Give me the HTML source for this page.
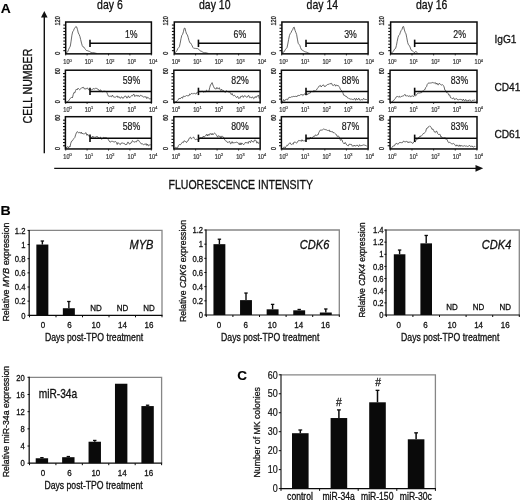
<!DOCTYPE html>
<html lang="en">
<head>
<meta charset="utf-8">
<title>Figure</title>
<style>
html,body{margin:0;padding:0;background:#fff;}
body{width:520px;height:500px;overflow:hidden;}
svg{display:block;font-family:'Liberation Sans', Arial, Helvetica, sans-serif;}
</style>
</head>
<body>
<svg width="520" height="500" viewBox="0 0 520 500" style="font-family:'Liberation Sans', Arial, Helvetica, sans-serif">
<rect x="0" y="0" width="520" height="500" fill="#ffffff"/>
<text transform="translate(0.70,12.70) scale(1.07,1)" font-size="13.0" text-anchor="start" fill="#000" stroke="#000" stroke-width="0.1" font-weight="bold">A</text>
<text transform="translate(0.50,215.40) scale(1.07,1)" font-size="13.2" text-anchor="start" fill="#000" stroke="#000" stroke-width="0.1" font-weight="bold">B</text>
<text transform="translate(237.30,379.80) scale(1.03,1)" font-size="13.2" text-anchor="start" fill="#000" stroke="#000" stroke-width="0.1" font-weight="bold">C</text>
<line x1="44.30" y1="16.00" x2="44.30" y2="153.30" stroke="#111" stroke-width="1.4"/>
<polygon points="44.3,10.9 41.0,17.4 47.6,17.4" fill="#111"/>
<line x1="54.20" y1="168.30" x2="477.00" y2="168.30" stroke="#111" stroke-width="1.2"/>
<polygon points="483.2,168.3 475.5,164.9 475.5,171.8" fill="#111"/>
<text transform="translate(31.80,123.40) rotate(-90) scale(0.88,1)" font-size="12" text-anchor="start" fill="#111" stroke="#111" stroke-width="0.3">CELL NUMBER</text>
<text transform="translate(168.50,188.60) scale(0.878,1)" font-size="12" text-anchor="start" fill="#111" stroke="#111" stroke-width="0.3">FLUORESCENCE INTENSITY</text>
<text transform="translate(109.90,8.90) scale(0.86,1)" font-size="12.2" text-anchor="middle" fill="#111" stroke="#111" stroke-width="0.3">day 6</text>
<text transform="translate(214.75,8.90) scale(0.86,1)" font-size="12.2" text-anchor="middle" fill="#111" stroke="#111" stroke-width="0.3">day 10</text>
<text transform="translate(322.30,8.90) scale(0.86,1)" font-size="12.2" text-anchor="middle" fill="#111" stroke="#111" stroke-width="0.3">day 14</text>
<text transform="translate(431.70,8.90) scale(0.86,1)" font-size="12.2" text-anchor="middle" fill="#111" stroke="#111" stroke-width="0.3">day 16</text>
<text transform="translate(494.40,42.70) scale(0.88,1)" font-size="11.6" text-anchor="start" fill="#111" stroke="#111" stroke-width="0.3">IgG1</text>
<text transform="translate(494.40,91.00) scale(0.88,1)" font-size="11.6" text-anchor="start" fill="#111" stroke="#111" stroke-width="0.3">CD41</text>
<text transform="translate(494.40,137.70) scale(0.88,1)" font-size="11.6" text-anchor="start" fill="#111" stroke="#111" stroke-width="0.3">CD61</text>
<line x1="63.30" y1="50.65" x2="65.70" y2="50.65" stroke="#111" stroke-width="1.1"/>
<line x1="63.30" y1="47.45" x2="65.70" y2="47.45" stroke="#111" stroke-width="1.1"/>
<line x1="63.30" y1="44.25" x2="65.70" y2="44.25" stroke="#111" stroke-width="1.1"/>
<line x1="63.30" y1="41.05" x2="65.70" y2="41.05" stroke="#111" stroke-width="1.1"/>
<line x1="63.30" y1="37.85" x2="65.70" y2="37.85" stroke="#111" stroke-width="1.1"/>
<line x1="63.30" y1="34.65" x2="65.70" y2="34.65" stroke="#111" stroke-width="1.1"/>
<line x1="63.30" y1="31.45" x2="65.70" y2="31.45" stroke="#111" stroke-width="1.1"/>
<line x1="63.30" y1="28.25" x2="65.70" y2="28.25" stroke="#111" stroke-width="1.1"/>
<line x1="63.30" y1="25.05" x2="65.70" y2="25.05" stroke="#111" stroke-width="1.1"/>
<line x1="65.70" y1="53.85" x2="65.70" y2="55.45" stroke="#222" stroke-width="0.9"/>
<text transform="translate(63.30,64.30) scale(0.88,1)" font-size="6.4" fill="#333" stroke="#333" stroke-width="0.2">10<tspan font-size="4.4" dy="-2.8">0</tspan></text>
<line x1="87.10" y1="53.85" x2="87.10" y2="55.45" stroke="#222" stroke-width="0.9"/>
<text transform="translate(84.70,64.30) scale(0.88,1)" font-size="6.4" fill="#333" stroke="#333" stroke-width="0.2">10<tspan font-size="4.4" dy="-2.8">1</tspan></text>
<line x1="108.50" y1="53.85" x2="108.50" y2="55.45" stroke="#222" stroke-width="0.9"/>
<text transform="translate(106.10,64.30) scale(0.88,1)" font-size="6.4" fill="#333" stroke="#333" stroke-width="0.2">10<tspan font-size="4.4" dy="-2.8">2</tspan></text>
<line x1="129.90" y1="53.85" x2="129.90" y2="55.45" stroke="#222" stroke-width="0.9"/>
<text transform="translate(127.50,64.30) scale(0.88,1)" font-size="6.4" fill="#333" stroke="#333" stroke-width="0.2">10<tspan font-size="4.4" dy="-2.8">3</tspan></text>
<line x1="151.30" y1="53.85" x2="151.30" y2="55.45" stroke="#222" stroke-width="0.9"/>
<text transform="translate(148.90,64.30) scale(0.88,1)" font-size="6.4" fill="#333" stroke="#333" stroke-width="0.2">10<tspan font-size="4.4" dy="-2.8">4</tspan></text>
<polyline points="66.3,53.2 67.1,52.2 67.9,51.3 68.7,49.3 69.5,47.7 70.3,46.2 71.1,41.1 71.9,35.2 72.7,31.8 73.5,30.7 74.3,28.5 75.1,27.8 75.9,26.4 76.7,27.0 77.5,29.7 78.3,33.0 79.1,34.4 79.9,36.4 80.7,39.7 81.5,43.1 82.3,45.8 83.1,46.9 83.9,47.1 84.7,48.4 85.5,49.5 86.3,50.4 87.1,50.6 87.9,50.8 88.7,51.2 89.5,51.4 90.3,52.0 91.1,52.4 91.9,52.6 92.7,52.7 93.5,52.6 94.3,52.8 95.1,53.0 95.9,53.3 96.7,53.4" fill="none" stroke="#444" stroke-width="0.8" stroke-linejoin="round"/>
<rect x="65.70" y="22.00" width="85.70" height="31.85" fill="none" stroke="#0a0a0a" stroke-width="1.5"/>
<line x1="90.00" y1="43.35" x2="151.40" y2="43.35" stroke="#0a0a0a" stroke-width="1.5"/>
<line x1="90.00" y1="39.65" x2="90.00" y2="47.05" stroke="#0a0a0a" stroke-width="1.6"/>
<text transform="translate(137.60,38.00) scale(0.86,1)" font-size="10.2" text-anchor="end" fill="#1a1a1a" stroke="#1a1a1a" stroke-width="0.2">1%</text>
<text transform="translate(59.80,20.90) rotate(-90) scale(0.85,1)" font-size="6.5" text-anchor="middle" fill="#222" stroke="#222" stroke-width="0.3">120</text>
<text transform="translate(59.80,53.25) rotate(-90) scale(0.85,1)" font-size="6.5" text-anchor="middle" fill="#222" stroke="#222" stroke-width="0.3">0</text>
<line x1="171.90" y1="50.65" x2="174.30" y2="50.65" stroke="#111" stroke-width="1.1"/>
<line x1="171.90" y1="47.45" x2="174.30" y2="47.45" stroke="#111" stroke-width="1.1"/>
<line x1="171.90" y1="44.25" x2="174.30" y2="44.25" stroke="#111" stroke-width="1.1"/>
<line x1="171.90" y1="41.05" x2="174.30" y2="41.05" stroke="#111" stroke-width="1.1"/>
<line x1="171.90" y1="37.85" x2="174.30" y2="37.85" stroke="#111" stroke-width="1.1"/>
<line x1="171.90" y1="34.65" x2="174.30" y2="34.65" stroke="#111" stroke-width="1.1"/>
<line x1="171.90" y1="31.45" x2="174.30" y2="31.45" stroke="#111" stroke-width="1.1"/>
<line x1="171.90" y1="28.25" x2="174.30" y2="28.25" stroke="#111" stroke-width="1.1"/>
<line x1="171.90" y1="25.05" x2="174.30" y2="25.05" stroke="#111" stroke-width="1.1"/>
<line x1="174.15" y1="53.85" x2="174.15" y2="55.45" stroke="#222" stroke-width="0.9"/>
<text transform="translate(171.75,64.30) scale(0.88,1)" font-size="6.4" fill="#333" stroke="#333" stroke-width="0.2">10<tspan font-size="4.4" dy="-2.8">0</tspan></text>
<line x1="195.62" y1="53.85" x2="195.62" y2="55.45" stroke="#222" stroke-width="0.9"/>
<text transform="translate(193.22,64.30) scale(0.88,1)" font-size="6.4" fill="#333" stroke="#333" stroke-width="0.2">10<tspan font-size="4.4" dy="-2.8">1</tspan></text>
<line x1="217.10" y1="53.85" x2="217.10" y2="55.45" stroke="#222" stroke-width="0.9"/>
<text transform="translate(214.70,64.30) scale(0.88,1)" font-size="6.4" fill="#333" stroke="#333" stroke-width="0.2">10<tspan font-size="4.4" dy="-2.8">2</tspan></text>
<line x1="238.57" y1="53.85" x2="238.57" y2="55.45" stroke="#222" stroke-width="0.9"/>
<text transform="translate(236.17,64.30) scale(0.88,1)" font-size="6.4" fill="#333" stroke="#333" stroke-width="0.2">10<tspan font-size="4.4" dy="-2.8">3</tspan></text>
<line x1="260.05" y1="53.85" x2="260.05" y2="55.45" stroke="#222" stroke-width="0.9"/>
<text transform="translate(257.65,64.30) scale(0.88,1)" font-size="6.4" fill="#333" stroke="#333" stroke-width="0.2">10<tspan font-size="4.4" dy="-2.8">4</tspan></text>
<polyline points="174.6,53.2 175.4,52.3 176.2,51.7 177.0,50.4 177.8,48.6 178.6,47.7 179.4,46.7 180.2,43.1 181.0,38.7 181.8,35.4 182.6,34.3 183.4,31.8 184.2,28.3 185.0,28.1 185.8,31.6 186.6,34.0 187.4,34.9 188.2,37.5 189.0,40.5 189.8,42.7 190.6,43.0 191.4,44.3 192.2,45.9 193.0,47.5 193.8,48.4 194.6,48.3 195.4,48.4 196.2,48.5 197.0,48.6 197.8,48.6 198.6,49.1 199.4,50.1 200.2,50.9 201.0,51.3 201.8,51.4 202.6,52.0 203.4,52.4 204.2,52.7 205.0,52.7 205.8,52.7 206.6,52.9 207.4,53.2 208.2,53.2" fill="none" stroke="#444" stroke-width="0.8" stroke-linejoin="round"/>
<rect x="174.30" y="22.00" width="85.85" height="31.85" fill="none" stroke="#0a0a0a" stroke-width="1.5"/>
<line x1="198.45" y1="43.35" x2="260.15" y2="43.35" stroke="#0a0a0a" stroke-width="1.5"/>
<line x1="198.45" y1="39.65" x2="198.45" y2="47.05" stroke="#0a0a0a" stroke-width="1.6"/>
<text transform="translate(246.20,38.00) scale(0.86,1)" font-size="10.2" text-anchor="end" fill="#1a1a1a" stroke="#1a1a1a" stroke-width="0.2">6%</text>
<text transform="translate(168.25,20.90) rotate(-90) scale(0.85,1)" font-size="6.5" text-anchor="middle" fill="#222" stroke="#222" stroke-width="0.3">120</text>
<text transform="translate(168.25,53.25) rotate(-90) scale(0.85,1)" font-size="6.5" text-anchor="middle" fill="#222" stroke="#222" stroke-width="0.3">0</text>
<line x1="279.50" y1="50.65" x2="281.90" y2="50.65" stroke="#111" stroke-width="1.1"/>
<line x1="279.50" y1="47.45" x2="281.90" y2="47.45" stroke="#111" stroke-width="1.1"/>
<line x1="279.50" y1="44.25" x2="281.90" y2="44.25" stroke="#111" stroke-width="1.1"/>
<line x1="279.50" y1="41.05" x2="281.90" y2="41.05" stroke="#111" stroke-width="1.1"/>
<line x1="279.50" y1="37.85" x2="281.90" y2="37.85" stroke="#111" stroke-width="1.1"/>
<line x1="279.50" y1="34.65" x2="281.90" y2="34.65" stroke="#111" stroke-width="1.1"/>
<line x1="279.50" y1="31.45" x2="281.90" y2="31.45" stroke="#111" stroke-width="1.1"/>
<line x1="279.50" y1="28.25" x2="281.90" y2="28.25" stroke="#111" stroke-width="1.1"/>
<line x1="279.50" y1="25.05" x2="281.90" y2="25.05" stroke="#111" stroke-width="1.1"/>
<line x1="281.70" y1="53.85" x2="281.70" y2="55.45" stroke="#222" stroke-width="0.9"/>
<text transform="translate(279.30,64.30) scale(0.88,1)" font-size="6.4" fill="#333" stroke="#333" stroke-width="0.2">10<tspan font-size="4.4" dy="-2.8">0</tspan></text>
<line x1="303.27" y1="53.85" x2="303.27" y2="55.45" stroke="#222" stroke-width="0.9"/>
<text transform="translate(300.88,64.30) scale(0.88,1)" font-size="6.4" fill="#333" stroke="#333" stroke-width="0.2">10<tspan font-size="4.4" dy="-2.8">1</tspan></text>
<line x1="324.85" y1="53.85" x2="324.85" y2="55.45" stroke="#222" stroke-width="0.9"/>
<text transform="translate(322.45,64.30) scale(0.88,1)" font-size="6.4" fill="#333" stroke="#333" stroke-width="0.2">10<tspan font-size="4.4" dy="-2.8">2</tspan></text>
<line x1="346.42" y1="53.85" x2="346.42" y2="55.45" stroke="#222" stroke-width="0.9"/>
<text transform="translate(344.02,64.30) scale(0.88,1)" font-size="6.4" fill="#333" stroke="#333" stroke-width="0.2">10<tspan font-size="4.4" dy="-2.8">3</tspan></text>
<line x1="368.00" y1="53.85" x2="368.00" y2="55.45" stroke="#222" stroke-width="0.9"/>
<text transform="translate(365.60,64.30) scale(0.88,1)" font-size="6.4" fill="#333" stroke="#333" stroke-width="0.2">10<tspan font-size="4.4" dy="-2.8">4</tspan></text>
<polyline points="282.2,53.2 283.0,52.4 283.8,52.1 284.6,50.9 285.4,49.4 286.2,48.7 287.0,47.6 287.8,44.0 288.6,39.6 289.4,35.7 290.2,33.7 291.0,32.7 291.8,30.8 292.6,29.9 293.4,27.6 294.2,27.1 295.0,30.3 295.8,32.3 296.6,34.4 297.4,39.1 298.2,43.3 299.0,44.3 299.8,45.4 300.6,47.7 301.4,49.6 302.2,50.1 303.0,50.5 303.8,51.1 304.6,51.6 305.4,51.9 306.2,52.1 307.0,52.3 307.8,52.7 308.6,53.1 309.4,53.2" fill="none" stroke="#444" stroke-width="0.8" stroke-linejoin="round"/>
<rect x="281.90" y="22.00" width="86.20" height="31.85" fill="none" stroke="#0a0a0a" stroke-width="1.5"/>
<line x1="306.00" y1="43.35" x2="368.10" y2="43.35" stroke="#0a0a0a" stroke-width="1.5"/>
<line x1="306.00" y1="39.65" x2="306.00" y2="47.05" stroke="#0a0a0a" stroke-width="1.6"/>
<text transform="translate(356.85,38.00) scale(0.86,1)" font-size="10.2" text-anchor="end" fill="#1a1a1a" stroke="#1a1a1a" stroke-width="0.2">3%</text>
<text transform="translate(275.80,20.90) rotate(-90) scale(0.85,1)" font-size="6.5" text-anchor="middle" fill="#222" stroke="#222" stroke-width="0.3">120</text>
<text transform="translate(275.80,53.25) rotate(-90) scale(0.85,1)" font-size="6.5" text-anchor="middle" fill="#222" stroke="#222" stroke-width="0.3">0</text>
<line x1="388.25" y1="50.65" x2="390.65" y2="50.65" stroke="#111" stroke-width="1.1"/>
<line x1="388.25" y1="47.45" x2="390.65" y2="47.45" stroke="#111" stroke-width="1.1"/>
<line x1="388.25" y1="44.25" x2="390.65" y2="44.25" stroke="#111" stroke-width="1.1"/>
<line x1="388.25" y1="41.05" x2="390.65" y2="41.05" stroke="#111" stroke-width="1.1"/>
<line x1="388.25" y1="37.85" x2="390.65" y2="37.85" stroke="#111" stroke-width="1.1"/>
<line x1="388.25" y1="34.65" x2="390.65" y2="34.65" stroke="#111" stroke-width="1.1"/>
<line x1="388.25" y1="31.45" x2="390.65" y2="31.45" stroke="#111" stroke-width="1.1"/>
<line x1="388.25" y1="28.25" x2="390.65" y2="28.25" stroke="#111" stroke-width="1.1"/>
<line x1="388.25" y1="25.05" x2="390.65" y2="25.05" stroke="#111" stroke-width="1.1"/>
<line x1="390.35" y1="53.85" x2="390.35" y2="55.45" stroke="#222" stroke-width="0.9"/>
<text transform="translate(387.95,64.30) scale(0.88,1)" font-size="6.4" fill="#333" stroke="#333" stroke-width="0.2">10<tspan font-size="4.4" dy="-2.8">0</tspan></text>
<line x1="411.99" y1="53.85" x2="411.99" y2="55.45" stroke="#222" stroke-width="0.9"/>
<text transform="translate(409.59,64.30) scale(0.88,1)" font-size="6.4" fill="#333" stroke="#333" stroke-width="0.2">10<tspan font-size="4.4" dy="-2.8">1</tspan></text>
<line x1="433.62" y1="53.85" x2="433.62" y2="55.45" stroke="#222" stroke-width="0.9"/>
<text transform="translate(431.23,64.30) scale(0.88,1)" font-size="6.4" fill="#333" stroke="#333" stroke-width="0.2">10<tspan font-size="4.4" dy="-2.8">2</tspan></text>
<line x1="455.26" y1="53.85" x2="455.26" y2="55.45" stroke="#222" stroke-width="0.9"/>
<text transform="translate(452.86,64.30) scale(0.88,1)" font-size="6.4" fill="#333" stroke="#333" stroke-width="0.2">10<tspan font-size="4.4" dy="-2.8">3</tspan></text>
<line x1="476.90" y1="53.85" x2="476.90" y2="55.45" stroke="#222" stroke-width="0.9"/>
<text transform="translate(474.50,64.30) scale(0.88,1)" font-size="6.4" fill="#333" stroke="#333" stroke-width="0.2">10<tspan font-size="4.4" dy="-2.8">4</tspan></text>
<polyline points="390.8,53.2 391.6,52.8 392.4,52.3 393.2,51.6 394.0,50.1 394.8,48.8 395.6,48.4 396.4,45.5 397.2,41.3 398.0,37.5 398.8,35.4 399.6,34.6 400.4,32.2 401.2,30.4 402.0,29.4 402.8,26.8 403.6,26.5 404.4,30.0 405.2,32.4 406.0,33.9 406.8,37.9 407.6,42.3 408.4,44.7 409.2,45.3 410.0,46.9 410.8,49.2 411.6,50.5 412.4,50.7 413.2,51.6 414.0,52.5 414.8,52.5 415.6,51.5 416.4,51.7 417.2,52.8" fill="none" stroke="#444" stroke-width="0.8" stroke-linejoin="round"/>
<rect x="390.65" y="22.00" width="86.35" height="31.85" fill="none" stroke="#0a0a0a" stroke-width="1.5"/>
<line x1="414.65" y1="43.35" x2="477.00" y2="43.35" stroke="#0a0a0a" stroke-width="1.5"/>
<line x1="414.65" y1="39.65" x2="414.65" y2="47.05" stroke="#0a0a0a" stroke-width="1.6"/>
<text transform="translate(466.00,38.00) scale(0.86,1)" font-size="10.2" text-anchor="end" fill="#1a1a1a" stroke="#1a1a1a" stroke-width="0.2">2%</text>
<text transform="translate(384.45,20.90) rotate(-90) scale(0.85,1)" font-size="6.5" text-anchor="middle" fill="#222" stroke="#222" stroke-width="0.3">120</text>
<text transform="translate(384.45,53.25) rotate(-90) scale(0.85,1)" font-size="6.5" text-anchor="middle" fill="#222" stroke="#222" stroke-width="0.3">0</text>
<line x1="63.00" y1="99.15" x2="65.40" y2="99.15" stroke="#111" stroke-width="1.1"/>
<line x1="63.00" y1="95.95" x2="65.40" y2="95.95" stroke="#111" stroke-width="1.1"/>
<line x1="63.00" y1="92.75" x2="65.40" y2="92.75" stroke="#111" stroke-width="1.1"/>
<line x1="63.00" y1="89.55" x2="65.40" y2="89.55" stroke="#111" stroke-width="1.1"/>
<line x1="63.00" y1="86.35" x2="65.40" y2="86.35" stroke="#111" stroke-width="1.1"/>
<line x1="63.00" y1="83.15" x2="65.40" y2="83.15" stroke="#111" stroke-width="1.1"/>
<line x1="63.00" y1="79.95" x2="65.40" y2="79.95" stroke="#111" stroke-width="1.1"/>
<line x1="63.00" y1="76.75" x2="65.40" y2="76.75" stroke="#111" stroke-width="1.1"/>
<line x1="63.00" y1="73.55" x2="65.40" y2="73.55" stroke="#111" stroke-width="1.1"/>
<line x1="65.70" y1="102.35" x2="65.70" y2="103.95" stroke="#222" stroke-width="0.9"/>
<text transform="translate(63.30,111.60) scale(0.88,1)" font-size="6.4" fill="#333" stroke="#333" stroke-width="0.2">10<tspan font-size="4.4" dy="-2.8">0</tspan></text>
<line x1="87.10" y1="102.35" x2="87.10" y2="103.95" stroke="#222" stroke-width="0.9"/>
<text transform="translate(84.70,111.60) scale(0.88,1)" font-size="6.4" fill="#333" stroke="#333" stroke-width="0.2">10<tspan font-size="4.4" dy="-2.8">1</tspan></text>
<line x1="108.50" y1="102.35" x2="108.50" y2="103.95" stroke="#222" stroke-width="0.9"/>
<text transform="translate(106.10,111.60) scale(0.88,1)" font-size="6.4" fill="#333" stroke="#333" stroke-width="0.2">10<tspan font-size="4.4" dy="-2.8">2</tspan></text>
<line x1="129.90" y1="102.35" x2="129.90" y2="103.95" stroke="#222" stroke-width="0.9"/>
<text transform="translate(127.50,111.60) scale(0.88,1)" font-size="6.4" fill="#333" stroke="#333" stroke-width="0.2">10<tspan font-size="4.4" dy="-2.8">3</tspan></text>
<line x1="151.30" y1="102.35" x2="151.30" y2="103.95" stroke="#222" stroke-width="0.9"/>
<text transform="translate(148.90,111.60) scale(0.88,1)" font-size="6.4" fill="#333" stroke="#333" stroke-width="0.2">10<tspan font-size="4.4" dy="-2.8">4</tspan></text>
<polyline points="66.0,102.0 66.8,102.3 67.6,101.4 68.4,101.1 69.2,99.9 70.0,98.8 70.8,97.9 71.6,97.1 72.4,97.9 73.2,94.7 74.0,92.4 74.8,92.9 75.6,90.5 76.4,89.1 77.2,89.9 78.0,88.2 78.8,89.0 79.6,89.7 80.4,89.0 81.2,88.5 82.0,87.4 82.8,87.7 83.6,87.3 84.4,89.0 85.2,88.5 86.0,89.3 86.8,88.2 87.6,88.0 88.4,89.6 89.2,90.1 90.0,89.8 90.8,89.7 91.6,89.8 92.4,89.6 93.2,88.4 94.0,89.2 94.8,88.9 95.6,88.1 96.4,88.2 97.2,89.0 98.0,89.0 98.8,90.2 99.6,91.0 100.4,89.7 101.2,90.9 102.0,91.4 102.8,91.9 103.6,91.0 104.4,91.2 105.2,91.3 106.0,91.6 106.8,92.4 107.6,94.4 108.4,96.1 109.2,96.6 110.0,95.9 110.8,96.4 111.6,96.8 112.4,95.0 113.2,96.6 114.0,97.3 114.8,97.1 115.6,97.1 116.4,96.5 117.2,95.9 118.0,97.6 118.8,96.5 119.6,97.8 120.4,98.4 121.2,96.9 122.0,97.0 122.8,98.5 123.6,97.9 124.4,96.4 125.2,96.2 126.0,96.2 126.8,98.1 127.6,97.7 128.4,95.8 129.2,97.4 130.0,97.6 130.8,96.5 131.6,95.5 132.4,95.9 133.2,94.6 134.0,94.2 134.8,96.6 135.6,95.6 136.4,95.3 137.2,96.3 138.0,95.1 138.8,96.4 139.6,96.5 140.4,95.2 141.2,95.6 142.0,96.0 142.8,96.2 143.6,97.3 144.4,96.7 145.2,97.2 146.0,96.5 146.8,98.6 147.6,97.3 148.4,97.8 149.2,98.3 150.0,99.3 150.8,98.3" fill="none" stroke="#444" stroke-width="0.8" stroke-linejoin="round"/>
<rect x="65.40" y="70.20" width="86.00" height="32.15" fill="none" stroke="#0a0a0a" stroke-width="1.5"/>
<line x1="90.00" y1="91.40" x2="151.40" y2="91.40" stroke="#0a0a0a" stroke-width="1.5"/>
<line x1="90.00" y1="87.70" x2="90.00" y2="95.10" stroke="#0a0a0a" stroke-width="1.6"/>
<text transform="translate(140.20,83.80) scale(0.86,1)" font-size="10.2" text-anchor="end" fill="#1a1a1a" stroke="#1a1a1a" stroke-width="0.2">59%</text>
<text transform="translate(59.80,71.20) rotate(-90) scale(0.85,1)" font-size="6.5" text-anchor="middle" fill="#222" stroke="#222" stroke-width="0.3">60</text>
<text transform="translate(59.80,101.75) rotate(-90) scale(0.85,1)" font-size="6.5" text-anchor="middle" fill="#222" stroke="#222" stroke-width="0.3">0</text>
<line x1="171.45" y1="99.15" x2="173.85" y2="99.15" stroke="#111" stroke-width="1.1"/>
<line x1="171.45" y1="95.95" x2="173.85" y2="95.95" stroke="#111" stroke-width="1.1"/>
<line x1="171.45" y1="92.75" x2="173.85" y2="92.75" stroke="#111" stroke-width="1.1"/>
<line x1="171.45" y1="89.55" x2="173.85" y2="89.55" stroke="#111" stroke-width="1.1"/>
<line x1="171.45" y1="86.35" x2="173.85" y2="86.35" stroke="#111" stroke-width="1.1"/>
<line x1="171.45" y1="83.15" x2="173.85" y2="83.15" stroke="#111" stroke-width="1.1"/>
<line x1="171.45" y1="79.95" x2="173.85" y2="79.95" stroke="#111" stroke-width="1.1"/>
<line x1="171.45" y1="76.75" x2="173.85" y2="76.75" stroke="#111" stroke-width="1.1"/>
<line x1="171.45" y1="73.55" x2="173.85" y2="73.55" stroke="#111" stroke-width="1.1"/>
<line x1="174.15" y1="102.35" x2="174.15" y2="103.95" stroke="#222" stroke-width="0.9"/>
<text transform="translate(171.75,111.60) scale(0.88,1)" font-size="6.4" fill="#333" stroke="#333" stroke-width="0.2">10<tspan font-size="4.4" dy="-2.8">0</tspan></text>
<line x1="195.62" y1="102.35" x2="195.62" y2="103.95" stroke="#222" stroke-width="0.9"/>
<text transform="translate(193.22,111.60) scale(0.88,1)" font-size="6.4" fill="#333" stroke="#333" stroke-width="0.2">10<tspan font-size="4.4" dy="-2.8">1</tspan></text>
<line x1="217.10" y1="102.35" x2="217.10" y2="103.95" stroke="#222" stroke-width="0.9"/>
<text transform="translate(214.70,111.60) scale(0.88,1)" font-size="6.4" fill="#333" stroke="#333" stroke-width="0.2">10<tspan font-size="4.4" dy="-2.8">2</tspan></text>
<line x1="238.57" y1="102.35" x2="238.57" y2="103.95" stroke="#222" stroke-width="0.9"/>
<text transform="translate(236.17,111.60) scale(0.88,1)" font-size="6.4" fill="#333" stroke="#333" stroke-width="0.2">10<tspan font-size="4.4" dy="-2.8">3</tspan></text>
<line x1="260.05" y1="102.35" x2="260.05" y2="103.95" stroke="#222" stroke-width="0.9"/>
<text transform="translate(257.65,111.60) scale(0.88,1)" font-size="6.4" fill="#333" stroke="#333" stroke-width="0.2">10<tspan font-size="4.4" dy="-2.8">4</tspan></text>
<polyline points="174.5,102.0 175.3,101.7 176.1,102.3 176.9,100.8 177.7,100.2 178.5,99.6 179.3,98.0 180.1,98.9 180.9,98.0 181.7,97.1 182.5,98.3 183.3,96.1 184.1,96.3 184.9,96.6 185.7,96.1 186.5,95.5 187.3,95.8 188.1,95.6 188.9,95.9 189.7,93.9 190.5,94.6 191.3,93.5 192.1,93.3 192.9,94.2 193.7,93.4 194.5,93.4 195.3,93.8 196.1,94.0 196.9,92.4 197.7,92.2 198.5,91.6 199.3,91.5 200.1,91.9 200.9,91.3 201.7,91.4 202.5,91.2 203.3,92.2 204.1,91.5 204.9,91.8 205.7,91.8 206.5,90.1 207.3,90.8 208.1,91.7 208.9,91.1 209.7,87.6 210.5,85.0 211.3,83.9 212.1,82.6 212.9,85.0 213.7,86.8 214.5,88.4 215.3,88.7 216.1,89.1 216.9,87.4 217.7,88.7 218.5,88.7 219.3,87.7 220.1,89.8 220.9,90.5 221.7,89.2 222.5,91.4 223.3,90.5 224.1,91.0 224.9,92.4 225.7,92.1 226.5,90.6 227.3,91.4 228.1,91.9 228.9,91.9 229.7,92.1 230.5,93.0 231.3,94.6 232.1,93.5 232.9,95.4 233.7,95.7 234.5,95.2 235.3,96.3 236.1,97.3 236.9,97.3 237.7,96.3 238.5,98.4 239.3,97.9 240.1,98.3 240.9,96.1 241.7,96.4 242.5,95.7 243.3,97.4 244.1,96.0 244.9,95.6 245.7,96.2 246.5,97.3 247.3,97.1 248.1,95.7 248.9,95.6 249.7,97.7 250.5,97.3 251.3,98.0 252.1,96.9 252.9,97.1 253.7,98.7 254.5,98.0 255.3,96.5 256.1,97.7 256.9,96.1 257.7,96.1 258.5,95.0 259.3,98.7" fill="none" stroke="#444" stroke-width="0.8" stroke-linejoin="round"/>
<rect x="173.85" y="70.20" width="86.30" height="32.15" fill="none" stroke="#0a0a0a" stroke-width="1.5"/>
<line x1="198.45" y1="91.40" x2="260.15" y2="91.40" stroke="#0a0a0a" stroke-width="1.5"/>
<line x1="198.45" y1="87.70" x2="198.45" y2="95.10" stroke="#0a0a0a" stroke-width="1.6"/>
<text transform="translate(248.85,83.80) scale(0.86,1)" font-size="10.2" text-anchor="end" fill="#1a1a1a" stroke="#1a1a1a" stroke-width="0.2">82%</text>
<text transform="translate(168.25,71.20) rotate(-90) scale(0.85,1)" font-size="6.5" text-anchor="middle" fill="#222" stroke="#222" stroke-width="0.3">60</text>
<text transform="translate(168.25,101.75) rotate(-90) scale(0.85,1)" font-size="6.5" text-anchor="middle" fill="#222" stroke="#222" stroke-width="0.3">0</text>
<line x1="279.00" y1="99.15" x2="281.40" y2="99.15" stroke="#111" stroke-width="1.1"/>
<line x1="279.00" y1="95.95" x2="281.40" y2="95.95" stroke="#111" stroke-width="1.1"/>
<line x1="279.00" y1="92.75" x2="281.40" y2="92.75" stroke="#111" stroke-width="1.1"/>
<line x1="279.00" y1="89.55" x2="281.40" y2="89.55" stroke="#111" stroke-width="1.1"/>
<line x1="279.00" y1="86.35" x2="281.40" y2="86.35" stroke="#111" stroke-width="1.1"/>
<line x1="279.00" y1="83.15" x2="281.40" y2="83.15" stroke="#111" stroke-width="1.1"/>
<line x1="279.00" y1="79.95" x2="281.40" y2="79.95" stroke="#111" stroke-width="1.1"/>
<line x1="279.00" y1="76.75" x2="281.40" y2="76.75" stroke="#111" stroke-width="1.1"/>
<line x1="279.00" y1="73.55" x2="281.40" y2="73.55" stroke="#111" stroke-width="1.1"/>
<line x1="281.70" y1="102.35" x2="281.70" y2="103.95" stroke="#222" stroke-width="0.9"/>
<text transform="translate(279.30,111.60) scale(0.88,1)" font-size="6.4" fill="#333" stroke="#333" stroke-width="0.2">10<tspan font-size="4.4" dy="-2.8">0</tspan></text>
<line x1="303.27" y1="102.35" x2="303.27" y2="103.95" stroke="#222" stroke-width="0.9"/>
<text transform="translate(300.88,111.60) scale(0.88,1)" font-size="6.4" fill="#333" stroke="#333" stroke-width="0.2">10<tspan font-size="4.4" dy="-2.8">1</tspan></text>
<line x1="324.85" y1="102.35" x2="324.85" y2="103.95" stroke="#222" stroke-width="0.9"/>
<text transform="translate(322.45,111.60) scale(0.88,1)" font-size="6.4" fill="#333" stroke="#333" stroke-width="0.2">10<tspan font-size="4.4" dy="-2.8">2</tspan></text>
<line x1="346.42" y1="102.35" x2="346.42" y2="103.95" stroke="#222" stroke-width="0.9"/>
<text transform="translate(344.02,111.60) scale(0.88,1)" font-size="6.4" fill="#333" stroke="#333" stroke-width="0.2">10<tspan font-size="4.4" dy="-2.8">3</tspan></text>
<line x1="368.00" y1="102.35" x2="368.00" y2="103.95" stroke="#222" stroke-width="0.9"/>
<text transform="translate(365.60,111.60) scale(0.88,1)" font-size="6.4" fill="#333" stroke="#333" stroke-width="0.2">10<tspan font-size="4.4" dy="-2.8">4</tspan></text>
<polyline points="282.0,102.0 282.8,101.5 283.6,99.5 284.4,101.2 285.2,99.9 286.0,99.3 286.8,99.4 287.6,99.8 288.4,97.9 289.2,97.2 290.0,97.9 290.8,97.1 291.6,96.8 292.4,96.8 293.2,96.4 294.0,96.5 294.8,96.5 295.6,96.2 296.4,97.0 297.2,95.7 298.0,96.1 298.8,95.2 299.6,95.6 300.4,94.7 301.2,95.0 302.0,94.2 302.8,95.6 303.6,94.9 304.4,93.8 305.2,94.3 306.0,95.3 306.8,93.3 307.6,94.8 308.4,93.5 309.2,93.1 310.0,93.4 310.8,91.8 311.6,91.6 312.4,91.6 313.2,92.0 314.0,90.3 314.8,91.5 315.6,90.8 316.4,90.1 317.2,88.7 318.0,87.8 318.8,86.3 319.6,85.9 320.4,85.4 321.2,87.0 322.0,85.7 322.8,85.3 323.6,84.9 324.4,86.5 325.2,86.4 326.0,85.9 326.8,84.9 327.6,84.5 328.4,84.3 329.2,84.3 330.0,83.3 330.8,83.8 331.6,83.3 332.4,85.2 333.2,85.6 334.0,84.9 334.8,84.4 335.6,86.2 336.4,85.0 337.2,85.7 338.0,85.2 338.8,86.3 339.6,87.4 340.4,89.4 341.2,90.1 342.0,91.5 342.8,92.5 343.6,95.1 344.4,95.1 345.2,96.2 346.0,96.1 346.8,96.7 347.6,98.0 348.4,98.0 349.2,98.8 350.0,98.7 350.8,99.3 351.6,99.1 352.4,99.4 353.2,99.8 354.0,98.7 354.8,98.6 355.6,100.3 356.4,98.3 357.2,99.7 358.0,99.5 358.8,98.1 359.6,100.0 360.4,100.1 361.2,99.5 362.0,99.8 362.8,99.9 363.6,98.3 364.4,99.3 365.2,99.2 366.0,100.0 366.8,99.2" fill="none" stroke="#444" stroke-width="0.8" stroke-linejoin="round"/>
<rect x="281.40" y="70.20" width="86.70" height="32.15" fill="none" stroke="#0a0a0a" stroke-width="1.5"/>
<line x1="306.00" y1="91.40" x2="368.10" y2="91.40" stroke="#0a0a0a" stroke-width="1.5"/>
<line x1="306.00" y1="87.70" x2="306.00" y2="95.10" stroke="#0a0a0a" stroke-width="1.6"/>
<text transform="translate(359.25,83.80) scale(0.86,1)" font-size="10.2" text-anchor="end" fill="#1a1a1a" stroke="#1a1a1a" stroke-width="0.2">88%</text>
<text transform="translate(275.80,71.20) rotate(-90) scale(0.85,1)" font-size="6.5" text-anchor="middle" fill="#222" stroke="#222" stroke-width="0.3">60</text>
<text transform="translate(275.80,101.75) rotate(-90) scale(0.85,1)" font-size="6.5" text-anchor="middle" fill="#222" stroke="#222" stroke-width="0.3">0</text>
<line x1="387.65" y1="99.15" x2="390.05" y2="99.15" stroke="#111" stroke-width="1.1"/>
<line x1="387.65" y1="95.95" x2="390.05" y2="95.95" stroke="#111" stroke-width="1.1"/>
<line x1="387.65" y1="92.75" x2="390.05" y2="92.75" stroke="#111" stroke-width="1.1"/>
<line x1="387.65" y1="89.55" x2="390.05" y2="89.55" stroke="#111" stroke-width="1.1"/>
<line x1="387.65" y1="86.35" x2="390.05" y2="86.35" stroke="#111" stroke-width="1.1"/>
<line x1="387.65" y1="83.15" x2="390.05" y2="83.15" stroke="#111" stroke-width="1.1"/>
<line x1="387.65" y1="79.95" x2="390.05" y2="79.95" stroke="#111" stroke-width="1.1"/>
<line x1="387.65" y1="76.75" x2="390.05" y2="76.75" stroke="#111" stroke-width="1.1"/>
<line x1="387.65" y1="73.55" x2="390.05" y2="73.55" stroke="#111" stroke-width="1.1"/>
<line x1="390.35" y1="102.35" x2="390.35" y2="103.95" stroke="#222" stroke-width="0.9"/>
<text transform="translate(387.95,111.60) scale(0.88,1)" font-size="6.4" fill="#333" stroke="#333" stroke-width="0.2">10<tspan font-size="4.4" dy="-2.8">0</tspan></text>
<line x1="411.99" y1="102.35" x2="411.99" y2="103.95" stroke="#222" stroke-width="0.9"/>
<text transform="translate(409.59,111.60) scale(0.88,1)" font-size="6.4" fill="#333" stroke="#333" stroke-width="0.2">10<tspan font-size="4.4" dy="-2.8">1</tspan></text>
<line x1="433.62" y1="102.35" x2="433.62" y2="103.95" stroke="#222" stroke-width="0.9"/>
<text transform="translate(431.23,111.60) scale(0.88,1)" font-size="6.4" fill="#333" stroke="#333" stroke-width="0.2">10<tspan font-size="4.4" dy="-2.8">2</tspan></text>
<line x1="455.26" y1="102.35" x2="455.26" y2="103.95" stroke="#222" stroke-width="0.9"/>
<text transform="translate(452.86,111.60) scale(0.88,1)" font-size="6.4" fill="#333" stroke="#333" stroke-width="0.2">10<tspan font-size="4.4" dy="-2.8">3</tspan></text>
<line x1="476.90" y1="102.35" x2="476.90" y2="103.95" stroke="#222" stroke-width="0.9"/>
<text transform="translate(474.50,111.60) scale(0.88,1)" font-size="6.4" fill="#333" stroke="#333" stroke-width="0.2">10<tspan font-size="4.4" dy="-2.8">4</tspan></text>
<polyline points="390.5,102.0 391.3,102.3 392.1,102.0 392.9,100.8 393.7,100.6 394.5,99.3 395.3,98.6 396.1,97.1 396.9,96.4 397.7,96.5 398.5,96.9 399.3,96.2 400.1,97.4 400.9,96.5 401.7,96.4 402.5,96.1 403.3,95.9 404.1,95.4 404.9,94.3 405.7,95.9 406.5,95.9 407.3,95.7 408.1,96.0 408.9,96.5 409.7,95.6 410.5,97.1 411.3,96.2 412.1,95.8 412.9,96.0 413.7,96.6 414.5,95.1 415.3,95.7 416.1,95.6 416.9,94.1 417.7,93.4 418.5,93.1 419.3,93.1 420.1,93.0 420.9,92.6 421.7,92.6 422.5,91.1 423.3,90.6 424.1,89.8 424.9,89.7 425.7,87.5 426.5,86.7 427.3,84.3 428.1,83.3 428.9,82.9 429.7,83.1 430.5,83.0 431.3,83.0 432.1,82.3 432.9,82.8 433.7,82.8 434.5,83.0 435.3,82.5 436.1,84.2 436.9,83.0 437.7,84.7 438.5,84.8 439.3,83.1 440.1,84.0 440.9,84.8 441.7,85.1 442.5,84.6 443.3,85.4 444.1,86.9 444.9,90.2 445.7,90.5 446.5,92.6 447.3,92.5 448.1,93.5 448.9,95.2 449.7,94.9 450.5,97.6 451.3,97.8 452.1,98.7 452.9,98.5 453.7,97.8 454.5,99.6 455.3,99.2 456.1,98.6 456.9,98.8 457.7,99.9 458.5,99.8 459.3,99.5 460.1,99.2 460.9,99.6 461.7,99.6 462.5,100.7 463.3,99.0 464.1,100.6 464.9,100.8 465.7,99.4 466.5,101.0 467.3,100.6 468.1,101.1 468.9,99.9 469.7,100.1 470.5,100.2 471.3,101.4 472.1,100.6 472.9,100.2 473.7,100.3 474.5,100.0 475.3,100.5" fill="none" stroke="#444" stroke-width="0.8" stroke-linejoin="round"/>
<rect x="390.05" y="70.20" width="86.95" height="32.15" fill="none" stroke="#0a0a0a" stroke-width="1.5"/>
<line x1="414.65" y1="91.40" x2="477.00" y2="91.40" stroke="#0a0a0a" stroke-width="1.5"/>
<line x1="414.65" y1="87.70" x2="414.65" y2="95.10" stroke="#0a0a0a" stroke-width="1.6"/>
<text transform="translate(468.20,83.80) scale(0.86,1)" font-size="10.2" text-anchor="end" fill="#1a1a1a" stroke="#1a1a1a" stroke-width="0.2">83%</text>
<text transform="translate(384.45,71.20) rotate(-90) scale(0.85,1)" font-size="6.5" text-anchor="middle" fill="#222" stroke="#222" stroke-width="0.3">60</text>
<text transform="translate(384.45,101.75) rotate(-90) scale(0.85,1)" font-size="6.5" text-anchor="middle" fill="#222" stroke="#222" stroke-width="0.3">0</text>
<line x1="63.00" y1="145.75" x2="65.40" y2="145.75" stroke="#111" stroke-width="1.1"/>
<line x1="63.00" y1="142.55" x2="65.40" y2="142.55" stroke="#111" stroke-width="1.1"/>
<line x1="63.00" y1="139.35" x2="65.40" y2="139.35" stroke="#111" stroke-width="1.1"/>
<line x1="63.00" y1="136.15" x2="65.40" y2="136.15" stroke="#111" stroke-width="1.1"/>
<line x1="63.00" y1="132.95" x2="65.40" y2="132.95" stroke="#111" stroke-width="1.1"/>
<line x1="63.00" y1="129.75" x2="65.40" y2="129.75" stroke="#111" stroke-width="1.1"/>
<line x1="63.00" y1="126.55" x2="65.40" y2="126.55" stroke="#111" stroke-width="1.1"/>
<line x1="63.00" y1="123.35" x2="65.40" y2="123.35" stroke="#111" stroke-width="1.1"/>
<line x1="63.00" y1="120.15" x2="65.40" y2="120.15" stroke="#111" stroke-width="1.1"/>
<line x1="65.70" y1="148.95" x2="65.70" y2="150.55" stroke="#222" stroke-width="0.9"/>
<text transform="translate(63.30,158.80) scale(0.88,1)" font-size="6.4" fill="#333" stroke="#333" stroke-width="0.2">10<tspan font-size="4.4" dy="-2.8">0</tspan></text>
<line x1="87.10" y1="148.95" x2="87.10" y2="150.55" stroke="#222" stroke-width="0.9"/>
<text transform="translate(84.70,158.80) scale(0.88,1)" font-size="6.4" fill="#333" stroke="#333" stroke-width="0.2">10<tspan font-size="4.4" dy="-2.8">1</tspan></text>
<line x1="108.50" y1="148.95" x2="108.50" y2="150.55" stroke="#222" stroke-width="0.9"/>
<text transform="translate(106.10,158.80) scale(0.88,1)" font-size="6.4" fill="#333" stroke="#333" stroke-width="0.2">10<tspan font-size="4.4" dy="-2.8">2</tspan></text>
<line x1="129.90" y1="148.95" x2="129.90" y2="150.55" stroke="#222" stroke-width="0.9"/>
<text transform="translate(127.50,158.80) scale(0.88,1)" font-size="6.4" fill="#333" stroke="#333" stroke-width="0.2">10<tspan font-size="4.4" dy="-2.8">3</tspan></text>
<line x1="151.30" y1="148.95" x2="151.30" y2="150.55" stroke="#222" stroke-width="0.9"/>
<text transform="translate(148.90,158.80) scale(0.88,1)" font-size="6.4" fill="#333" stroke="#333" stroke-width="0.2">10<tspan font-size="4.4" dy="-2.8">4</tspan></text>
<polyline points="66.0,148.4 66.8,147.0 67.6,146.6 68.4,148.0 69.2,146.4 70.0,147.0 70.8,143.1 71.6,141.1 72.4,140.8 73.2,139.5 74.0,138.3 74.8,137.5 75.6,134.9 76.4,132.8 77.2,131.6 78.0,132.4 78.8,132.8 79.6,132.3 80.4,133.3 81.2,132.0 82.0,133.9 82.8,133.2 83.6,134.1 84.4,134.0 85.2,133.2 86.0,132.6 86.8,135.3 87.6,134.0 88.4,135.9 89.2,136.1 90.0,136.1 90.8,137.3 91.6,138.0 92.4,136.2 93.2,137.3 94.0,136.5 94.8,137.4 95.6,137.1 96.4,136.6 97.2,136.7 98.0,136.9 98.8,138.8 99.6,137.8 100.4,137.1 101.2,138.9 102.0,139.3 102.8,138.0 103.6,137.4 104.4,137.7 105.2,137.5 106.0,138.2 106.8,137.8 107.6,138.8 108.4,139.7 109.2,141.1 110.0,142.2 110.8,141.9 111.6,141.1 112.4,141.3 113.2,141.8 114.0,141.7 114.8,142.0 115.6,141.5 116.4,142.4 117.2,144.5 118.0,142.5 118.8,143.6 119.6,144.0 120.4,144.6 121.2,143.0 122.0,143.1 122.8,143.0 123.6,143.4 124.4,143.4 125.2,144.7 126.0,144.4 126.8,144.5 127.6,142.3 128.4,142.3 129.2,143.9 130.0,144.1 130.8,142.7 131.6,142.6 132.4,140.6 133.2,141.3 134.0,142.3 134.8,141.8 135.6,141.7 136.4,142.0 137.2,140.3 138.0,140.1 138.8,140.5 139.6,141.9 140.4,142.7 141.2,143.9 142.0,143.8 142.8,144.0 143.6,144.7 144.4,144.2 145.2,144.7 146.0,143.5 146.8,145.4 147.6,144.0 148.4,145.9 149.2,145.3 150.0,144.5 150.8,145.0" fill="none" stroke="#444" stroke-width="0.8" stroke-linejoin="round"/>
<rect x="65.40" y="116.70" width="86.00" height="32.25" fill="none" stroke="#0a0a0a" stroke-width="1.5"/>
<line x1="90.00" y1="138.30" x2="151.40" y2="138.30" stroke="#0a0a0a" stroke-width="1.5"/>
<line x1="90.00" y1="134.60" x2="90.00" y2="142.00" stroke="#0a0a0a" stroke-width="1.6"/>
<text transform="translate(140.20,129.90) scale(0.86,1)" font-size="10.2" text-anchor="end" fill="#1a1a1a" stroke="#1a1a1a" stroke-width="0.2">58%</text>
<text transform="translate(59.80,117.70) rotate(-90) scale(0.85,1)" font-size="6.5" text-anchor="middle" fill="#222" stroke="#222" stroke-width="0.3">60</text>
<text transform="translate(59.80,148.35) rotate(-90) scale(0.85,1)" font-size="6.5" text-anchor="middle" fill="#222" stroke="#222" stroke-width="0.3">0</text>
<line x1="171.45" y1="145.75" x2="173.85" y2="145.75" stroke="#111" stroke-width="1.1"/>
<line x1="171.45" y1="142.55" x2="173.85" y2="142.55" stroke="#111" stroke-width="1.1"/>
<line x1="171.45" y1="139.35" x2="173.85" y2="139.35" stroke="#111" stroke-width="1.1"/>
<line x1="171.45" y1="136.15" x2="173.85" y2="136.15" stroke="#111" stroke-width="1.1"/>
<line x1="171.45" y1="132.95" x2="173.85" y2="132.95" stroke="#111" stroke-width="1.1"/>
<line x1="171.45" y1="129.75" x2="173.85" y2="129.75" stroke="#111" stroke-width="1.1"/>
<line x1="171.45" y1="126.55" x2="173.85" y2="126.55" stroke="#111" stroke-width="1.1"/>
<line x1="171.45" y1="123.35" x2="173.85" y2="123.35" stroke="#111" stroke-width="1.1"/>
<line x1="171.45" y1="120.15" x2="173.85" y2="120.15" stroke="#111" stroke-width="1.1"/>
<line x1="174.15" y1="148.95" x2="174.15" y2="150.55" stroke="#222" stroke-width="0.9"/>
<text transform="translate(171.75,158.80) scale(0.88,1)" font-size="6.4" fill="#333" stroke="#333" stroke-width="0.2">10<tspan font-size="4.4" dy="-2.8">0</tspan></text>
<line x1="195.62" y1="148.95" x2="195.62" y2="150.55" stroke="#222" stroke-width="0.9"/>
<text transform="translate(193.22,158.80) scale(0.88,1)" font-size="6.4" fill="#333" stroke="#333" stroke-width="0.2">10<tspan font-size="4.4" dy="-2.8">1</tspan></text>
<line x1="217.10" y1="148.95" x2="217.10" y2="150.55" stroke="#222" stroke-width="0.9"/>
<text transform="translate(214.70,158.80) scale(0.88,1)" font-size="6.4" fill="#333" stroke="#333" stroke-width="0.2">10<tspan font-size="4.4" dy="-2.8">2</tspan></text>
<line x1="238.57" y1="148.95" x2="238.57" y2="150.55" stroke="#222" stroke-width="0.9"/>
<text transform="translate(236.17,158.80) scale(0.88,1)" font-size="6.4" fill="#333" stroke="#333" stroke-width="0.2">10<tspan font-size="4.4" dy="-2.8">3</tspan></text>
<line x1="260.05" y1="148.95" x2="260.05" y2="150.55" stroke="#222" stroke-width="0.9"/>
<text transform="translate(257.65,158.80) scale(0.88,1)" font-size="6.4" fill="#333" stroke="#333" stroke-width="0.2">10<tspan font-size="4.4" dy="-2.8">4</tspan></text>
<polyline points="174.5,148.4 175.3,147.3 176.1,147.4 176.9,148.0 177.7,147.6 178.5,145.4 179.3,144.5 180.1,144.9 180.9,144.3 181.7,143.1 182.5,142.1 183.3,142.6 184.1,140.7 184.9,141.3 185.7,141.6 186.5,142.6 187.3,141.1 188.1,140.9 188.9,139.0 189.7,137.7 190.5,137.2 191.3,138.9 192.1,138.3 192.9,137.5 193.7,137.1 194.5,138.8 195.3,139.7 196.1,139.3 196.9,139.0 197.7,140.1 198.5,140.7 199.3,138.6 200.1,137.7 200.9,138.1 201.7,137.8 202.5,137.9 203.3,136.1 204.1,137.1 204.9,136.5 205.7,135.4 206.5,134.3 207.3,136.0 208.1,134.2 208.9,135.5 209.7,133.8 210.5,133.6 211.3,134.8 212.1,133.3 212.9,134.9 213.7,133.7 214.5,133.1 215.3,133.6 216.1,134.7 216.9,135.9 217.7,137.2 218.5,135.6 219.3,136.4 220.1,136.0 220.9,138.1 221.7,136.2 222.5,136.4 223.3,136.9 224.1,138.3 224.9,140.2 225.7,140.8 226.5,141.1 227.3,142.3 228.1,142.7 228.9,141.6 229.7,141.6 230.5,143.8 231.3,143.4 232.1,141.6 232.9,143.3 233.7,142.6 234.5,142.7 235.3,142.6 236.1,142.3 236.9,142.0 237.7,142.9 238.5,143.2 239.3,144.8 240.1,142.8 240.9,145.0 241.7,143.0 242.5,143.4 243.3,144.5 244.1,144.4 244.9,143.2 245.7,142.0 246.5,142.9 247.3,142.4 248.1,143.5 248.9,141.4 249.7,141.5 250.5,142.7 251.3,140.3 252.1,141.1 252.9,142.1 253.7,141.9 254.5,140.0 255.3,140.2 256.1,140.6 256.9,143.2 257.7,141.8 258.5,143.4 259.3,142.9" fill="none" stroke="#444" stroke-width="0.8" stroke-linejoin="round"/>
<rect x="173.85" y="116.70" width="86.30" height="32.25" fill="none" stroke="#0a0a0a" stroke-width="1.5"/>
<line x1="198.45" y1="138.30" x2="260.15" y2="138.30" stroke="#0a0a0a" stroke-width="1.5"/>
<line x1="198.45" y1="134.60" x2="198.45" y2="142.00" stroke="#0a0a0a" stroke-width="1.6"/>
<text transform="translate(248.70,129.90) scale(0.86,1)" font-size="10.2" text-anchor="end" fill="#1a1a1a" stroke="#1a1a1a" stroke-width="0.2">80%</text>
<text transform="translate(168.25,117.70) rotate(-90) scale(0.85,1)" font-size="6.5" text-anchor="middle" fill="#222" stroke="#222" stroke-width="0.3">60</text>
<text transform="translate(168.25,148.35) rotate(-90) scale(0.85,1)" font-size="6.5" text-anchor="middle" fill="#222" stroke="#222" stroke-width="0.3">0</text>
<line x1="279.00" y1="145.75" x2="281.40" y2="145.75" stroke="#111" stroke-width="1.1"/>
<line x1="279.00" y1="142.55" x2="281.40" y2="142.55" stroke="#111" stroke-width="1.1"/>
<line x1="279.00" y1="139.35" x2="281.40" y2="139.35" stroke="#111" stroke-width="1.1"/>
<line x1="279.00" y1="136.15" x2="281.40" y2="136.15" stroke="#111" stroke-width="1.1"/>
<line x1="279.00" y1="132.95" x2="281.40" y2="132.95" stroke="#111" stroke-width="1.1"/>
<line x1="279.00" y1="129.75" x2="281.40" y2="129.75" stroke="#111" stroke-width="1.1"/>
<line x1="279.00" y1="126.55" x2="281.40" y2="126.55" stroke="#111" stroke-width="1.1"/>
<line x1="279.00" y1="123.35" x2="281.40" y2="123.35" stroke="#111" stroke-width="1.1"/>
<line x1="279.00" y1="120.15" x2="281.40" y2="120.15" stroke="#111" stroke-width="1.1"/>
<line x1="281.70" y1="148.95" x2="281.70" y2="150.55" stroke="#222" stroke-width="0.9"/>
<text transform="translate(279.30,158.80) scale(0.88,1)" font-size="6.4" fill="#333" stroke="#333" stroke-width="0.2">10<tspan font-size="4.4" dy="-2.8">0</tspan></text>
<line x1="303.27" y1="148.95" x2="303.27" y2="150.55" stroke="#222" stroke-width="0.9"/>
<text transform="translate(300.88,158.80) scale(0.88,1)" font-size="6.4" fill="#333" stroke="#333" stroke-width="0.2">10<tspan font-size="4.4" dy="-2.8">1</tspan></text>
<line x1="324.85" y1="148.95" x2="324.85" y2="150.55" stroke="#222" stroke-width="0.9"/>
<text transform="translate(322.45,158.80) scale(0.88,1)" font-size="6.4" fill="#333" stroke="#333" stroke-width="0.2">10<tspan font-size="4.4" dy="-2.8">2</tspan></text>
<line x1="346.42" y1="148.95" x2="346.42" y2="150.55" stroke="#222" stroke-width="0.9"/>
<text transform="translate(344.02,158.80) scale(0.88,1)" font-size="6.4" fill="#333" stroke="#333" stroke-width="0.2">10<tspan font-size="4.4" dy="-2.8">3</tspan></text>
<line x1="368.00" y1="148.95" x2="368.00" y2="150.55" stroke="#222" stroke-width="0.9"/>
<text transform="translate(365.60,158.80) scale(0.88,1)" font-size="6.4" fill="#333" stroke="#333" stroke-width="0.2">10<tspan font-size="4.4" dy="-2.8">4</tspan></text>
<polyline points="282.0,148.4 282.8,148.7 283.6,147.3 284.4,146.9 285.2,148.0 286.0,146.7 286.8,145.3 287.6,145.7 288.4,144.2 289.2,143.7 290.0,142.7 290.8,144.2 291.6,144.5 292.4,143.8 293.2,144.3 294.0,142.0 294.8,142.2 295.6,142.3 296.4,143.0 297.2,142.6 298.0,141.0 298.8,140.4 299.6,140.6 300.4,140.5 301.2,141.4 302.0,139.7 302.8,141.0 303.6,140.8 304.4,140.8 305.2,140.6 306.0,140.2 306.8,139.5 307.6,139.3 308.4,139.0 309.2,139.5 310.0,137.6 310.8,137.5 311.6,138.5 312.4,137.3 313.2,136.7 314.0,136.0 314.8,136.2 315.6,134.8 316.4,135.5 317.2,134.9 318.0,135.0 318.8,132.7 319.6,131.1 320.4,130.0 321.2,130.0 322.0,130.3 322.8,129.6 323.6,129.0 324.4,129.3 325.2,129.6 326.0,129.7 326.8,130.0 327.6,130.5 328.4,130.6 329.2,129.9 330.0,131.9 330.8,131.0 331.6,131.7 332.4,131.5 333.2,132.9 334.0,132.4 334.8,133.4 335.6,134.1 336.4,134.5 337.2,136.5 338.0,135.9 338.8,136.3 339.6,137.8 340.4,140.3 341.2,139.6 342.0,139.8 342.8,142.4 343.6,143.1 344.4,144.0 345.2,142.4 346.0,143.8 346.8,145.1 347.6,145.6 348.4,145.9 349.2,144.0 350.0,144.6 350.8,144.3 351.6,144.5 352.4,146.3 353.2,145.5 354.0,146.3 354.8,145.1 355.6,146.3 356.4,145.4 357.2,145.0 358.0,146.1 358.8,146.5 359.6,144.7 360.4,145.8 361.2,145.9 362.0,145.0 362.8,145.4 363.6,144.9 364.4,145.1 365.2,145.2 366.0,146.0 366.8,145.8" fill="none" stroke="#444" stroke-width="0.8" stroke-linejoin="round"/>
<rect x="281.40" y="116.70" width="86.70" height="32.25" fill="none" stroke="#0a0a0a" stroke-width="1.5"/>
<line x1="306.00" y1="138.30" x2="368.10" y2="138.30" stroke="#0a0a0a" stroke-width="1.5"/>
<line x1="306.00" y1="134.60" x2="306.00" y2="142.00" stroke="#0a0a0a" stroke-width="1.6"/>
<text transform="translate(359.25,129.90) scale(0.86,1)" font-size="10.2" text-anchor="end" fill="#1a1a1a" stroke="#1a1a1a" stroke-width="0.2">87%</text>
<text transform="translate(275.80,117.70) rotate(-90) scale(0.85,1)" font-size="6.5" text-anchor="middle" fill="#222" stroke="#222" stroke-width="0.3">60</text>
<text transform="translate(275.80,148.35) rotate(-90) scale(0.85,1)" font-size="6.5" text-anchor="middle" fill="#222" stroke="#222" stroke-width="0.3">0</text>
<line x1="387.65" y1="145.75" x2="390.05" y2="145.75" stroke="#111" stroke-width="1.1"/>
<line x1="387.65" y1="142.55" x2="390.05" y2="142.55" stroke="#111" stroke-width="1.1"/>
<line x1="387.65" y1="139.35" x2="390.05" y2="139.35" stroke="#111" stroke-width="1.1"/>
<line x1="387.65" y1="136.15" x2="390.05" y2="136.15" stroke="#111" stroke-width="1.1"/>
<line x1="387.65" y1="132.95" x2="390.05" y2="132.95" stroke="#111" stroke-width="1.1"/>
<line x1="387.65" y1="129.75" x2="390.05" y2="129.75" stroke="#111" stroke-width="1.1"/>
<line x1="387.65" y1="126.55" x2="390.05" y2="126.55" stroke="#111" stroke-width="1.1"/>
<line x1="387.65" y1="123.35" x2="390.05" y2="123.35" stroke="#111" stroke-width="1.1"/>
<line x1="387.65" y1="120.15" x2="390.05" y2="120.15" stroke="#111" stroke-width="1.1"/>
<line x1="390.35" y1="148.95" x2="390.35" y2="150.55" stroke="#222" stroke-width="0.9"/>
<text transform="translate(387.95,158.80) scale(0.88,1)" font-size="6.4" fill="#333" stroke="#333" stroke-width="0.2">10<tspan font-size="4.4" dy="-2.8">0</tspan></text>
<line x1="411.99" y1="148.95" x2="411.99" y2="150.55" stroke="#222" stroke-width="0.9"/>
<text transform="translate(409.59,158.80) scale(0.88,1)" font-size="6.4" fill="#333" stroke="#333" stroke-width="0.2">10<tspan font-size="4.4" dy="-2.8">1</tspan></text>
<line x1="433.62" y1="148.95" x2="433.62" y2="150.55" stroke="#222" stroke-width="0.9"/>
<text transform="translate(431.23,158.80) scale(0.88,1)" font-size="6.4" fill="#333" stroke="#333" stroke-width="0.2">10<tspan font-size="4.4" dy="-2.8">2</tspan></text>
<line x1="455.26" y1="148.95" x2="455.26" y2="150.55" stroke="#222" stroke-width="0.9"/>
<text transform="translate(452.86,158.80) scale(0.88,1)" font-size="6.4" fill="#333" stroke="#333" stroke-width="0.2">10<tspan font-size="4.4" dy="-2.8">3</tspan></text>
<line x1="476.90" y1="148.95" x2="476.90" y2="150.55" stroke="#222" stroke-width="0.9"/>
<text transform="translate(474.50,158.80) scale(0.88,1)" font-size="6.4" fill="#333" stroke="#333" stroke-width="0.2">10<tspan font-size="4.4" dy="-2.8">4</tspan></text>
<polyline points="390.5,148.4 391.3,148.5 392.1,147.2 392.9,146.1 393.7,145.9 394.5,145.8 395.3,144.0 396.1,143.7 396.9,143.2 397.7,144.4 398.5,143.8 399.3,142.6 400.1,142.4 400.9,142.7 401.7,142.7 402.5,142.6 403.3,141.2 404.1,141.2 404.9,142.2 405.7,141.6 406.5,141.4 407.3,141.5 408.1,142.9 408.9,141.7 409.7,142.3 410.5,142.0 411.3,142.1 412.1,143.1 412.9,143.4 413.7,142.1 414.5,141.4 415.3,141.9 416.1,140.0 416.9,138.6 417.7,139.4 418.5,137.5 419.3,137.4 420.1,135.9 420.9,136.5 421.7,135.6 422.5,134.6 423.3,133.5 424.1,133.5 424.9,132.4 425.7,131.5 426.5,128.5 427.3,128.4 428.1,127.0 428.9,126.7 429.7,125.9 430.5,126.5 431.3,127.7 432.1,129.5 432.9,128.9 433.7,130.6 434.5,132.0 435.3,132.6 436.1,131.2 436.9,131.4 437.7,133.6 438.5,134.5 439.3,134.4 440.1,134.4 440.9,137.1 441.7,136.7 442.5,138.2 443.3,137.9 444.1,138.4 444.9,137.4 445.7,139.2 446.5,138.9 447.3,140.1 448.1,142.0 448.9,142.8 449.7,142.3 450.5,142.9 451.3,143.6 452.1,143.9 452.9,143.8 453.7,143.5 454.5,144.2 455.3,145.5 456.1,146.2 456.9,144.8 457.7,145.9 458.5,146.3 459.3,144.9 460.1,146.5 460.9,145.1 461.7,146.1 462.5,146.0 463.3,146.2 464.1,145.6 464.9,145.9 465.7,146.2 466.5,146.0 467.3,146.5 468.1,146.1 468.9,146.1 469.7,145.4 470.5,146.6 471.3,146.4 472.1,145.9 472.9,147.0 473.7,147.0 474.5,146.4 475.3,146.5" fill="none" stroke="#444" stroke-width="0.8" stroke-linejoin="round"/>
<rect x="390.05" y="116.70" width="86.95" height="32.25" fill="none" stroke="#0a0a0a" stroke-width="1.5"/>
<line x1="414.65" y1="138.30" x2="477.00" y2="138.30" stroke="#0a0a0a" stroke-width="1.5"/>
<line x1="414.65" y1="134.60" x2="414.65" y2="142.00" stroke="#0a0a0a" stroke-width="1.6"/>
<text transform="translate(468.20,129.90) scale(0.86,1)" font-size="10.2" text-anchor="end" fill="#1a1a1a" stroke="#1a1a1a" stroke-width="0.2">83%</text>
<text transform="translate(384.45,117.70) rotate(-90) scale(0.85,1)" font-size="6.5" text-anchor="middle" fill="#222" stroke="#222" stroke-width="0.3">60</text>
<text transform="translate(384.45,148.35) rotate(-90) scale(0.85,1)" font-size="6.5" text-anchor="middle" fill="#222" stroke="#222" stroke-width="0.3">0</text>
<path d="M29.5,230.4 H162.0 V315.3" fill="none" stroke="#868686" stroke-width="1.3"/>
<rect x="36.35" y="244.55" width="12.00" height="70.75" fill="#0a0a0a"/>
<line x1="42.35" y1="244.55" x2="42.35" y2="241.01" stroke="#0a0a0a" stroke-width="1.4"/>
<line x1="40.65" y1="241.01" x2="44.05" y2="241.01" stroke="#0a0a0a" stroke-width="1.3"/>
<rect x="62.85" y="308.23" width="12.00" height="7.07" fill="#0a0a0a"/>
<line x1="68.85" y1="308.23" x2="68.85" y2="301.50" stroke="#0a0a0a" stroke-width="1.4"/>
<line x1="67.15" y1="301.50" x2="70.55" y2="301.50" stroke="#0a0a0a" stroke-width="1.3"/>
<text transform="translate(96.05,310.70) scale(0.93,1)" font-size="8.6" text-anchor="middle" fill="#111" stroke="#111" stroke-width="0.3">ND</text>
<text transform="translate(122.55,310.70) scale(0.93,1)" font-size="8.6" text-anchor="middle" fill="#111" stroke="#111" stroke-width="0.3">ND</text>
<text transform="translate(149.05,310.70) scale(0.93,1)" font-size="8.6" text-anchor="middle" fill="#111" stroke="#111" stroke-width="0.3">ND</text>
<line x1="29.20" y1="229.90" x2="29.20" y2="315.80" stroke="#262626" stroke-width="1.4"/>
<line x1="29.00" y1="315.30" x2="162.50" y2="315.30" stroke="#0a0a0a" stroke-width="1.2"/>
<line x1="27.50" y1="315.30" x2="29.50" y2="315.30" stroke="#0a0a0a" stroke-width="1"/>
<text transform="translate(25.50,318.50) scale(0.86,1)" font-size="8.9" text-anchor="end" fill="#111" stroke="#111" stroke-width="0.3">0</text>
<line x1="27.50" y1="301.15" x2="29.50" y2="301.15" stroke="#0a0a0a" stroke-width="1"/>
<text transform="translate(25.50,304.35) scale(0.86,1)" font-size="8.9" text-anchor="end" fill="#111" stroke="#111" stroke-width="0.3">0.2</text>
<line x1="27.50" y1="287.00" x2="29.50" y2="287.00" stroke="#0a0a0a" stroke-width="1"/>
<text transform="translate(25.50,290.20) scale(0.86,1)" font-size="8.9" text-anchor="end" fill="#111" stroke="#111" stroke-width="0.3">0.4</text>
<line x1="27.50" y1="272.85" x2="29.50" y2="272.85" stroke="#0a0a0a" stroke-width="1"/>
<text transform="translate(25.50,276.05) scale(0.86,1)" font-size="8.9" text-anchor="end" fill="#111" stroke="#111" stroke-width="0.3">0.6</text>
<line x1="27.50" y1="258.70" x2="29.50" y2="258.70" stroke="#0a0a0a" stroke-width="1"/>
<text transform="translate(25.50,261.90) scale(0.86,1)" font-size="8.9" text-anchor="end" fill="#111" stroke="#111" stroke-width="0.3">0.8</text>
<line x1="27.50" y1="244.55" x2="29.50" y2="244.55" stroke="#0a0a0a" stroke-width="1"/>
<text transform="translate(25.50,247.75) scale(0.86,1)" font-size="8.9" text-anchor="end" fill="#111" stroke="#111" stroke-width="0.3">1</text>
<line x1="27.50" y1="230.40" x2="29.50" y2="230.40" stroke="#0a0a0a" stroke-width="1"/>
<text transform="translate(25.50,233.60) scale(0.86,1)" font-size="8.9" text-anchor="end" fill="#111" stroke="#111" stroke-width="0.3">1.2</text>
<line x1="29.50" y1="315.30" x2="29.50" y2="317.30" stroke="#0a0a0a" stroke-width="1"/>
<line x1="56.00" y1="315.30" x2="56.00" y2="317.30" stroke="#0a0a0a" stroke-width="1"/>
<line x1="82.50" y1="315.30" x2="82.50" y2="317.30" stroke="#0a0a0a" stroke-width="1"/>
<line x1="109.00" y1="315.30" x2="109.00" y2="317.30" stroke="#0a0a0a" stroke-width="1"/>
<line x1="135.50" y1="315.30" x2="135.50" y2="317.30" stroke="#0a0a0a" stroke-width="1"/>
<line x1="162.00" y1="315.30" x2="162.00" y2="317.30" stroke="#0a0a0a" stroke-width="1"/>
<text transform="translate(43.05,328.20) scale(0.9,1)" font-size="8.9" text-anchor="middle" fill="#111" stroke="#111" stroke-width="0.3">0</text>
<text transform="translate(69.55,328.20) scale(0.9,1)" font-size="8.9" text-anchor="middle" fill="#111" stroke="#111" stroke-width="0.3">6</text>
<text transform="translate(96.05,328.20) scale(0.9,1)" font-size="8.9" text-anchor="middle" fill="#111" stroke="#111" stroke-width="0.3">10</text>
<text transform="translate(122.55,328.20) scale(0.9,1)" font-size="8.9" text-anchor="middle" fill="#111" stroke="#111" stroke-width="0.3">14</text>
<text transform="translate(149.05,328.20) scale(0.9,1)" font-size="8.9" text-anchor="middle" fill="#111" stroke="#111" stroke-width="0.3">16</text>
<text transform="translate(94.00,341.10) scale(0.858,1)" font-size="10.1" text-anchor="middle" fill="#111" stroke="#111" stroke-width="0.3">Days post-TPO treatment</text>
<text transform="translate(8.60,272.00) rotate(-90) scale(0.934,1)" font-size="9.5" text-anchor="middle" fill="#111" stroke="#111" stroke-width="0.3">Relative <tspan font-style="italic">MYB</tspan> expression</text>
<text transform="translate(153.50,248.80) scale(0.9,1)" font-size="12.3" text-anchor="end" fill="#111" stroke="#111" stroke-width="0.3" font-style="italic">MYB</text>
<path d="M206.3,230 H339.3 V315" fill="none" stroke="#868686" stroke-width="1.3"/>
<rect x="213.45" y="244.17" width="11.90" height="70.83" fill="#0a0a0a"/>
<line x1="219.40" y1="244.17" x2="219.40" y2="239.21" stroke="#0a0a0a" stroke-width="1.4"/>
<line x1="217.70" y1="239.21" x2="221.10" y2="239.21" stroke="#0a0a0a" stroke-width="1.3"/>
<rect x="240.05" y="300.12" width="11.90" height="14.88" fill="#0a0a0a"/>
<line x1="246.00" y1="300.12" x2="246.00" y2="293.04" stroke="#0a0a0a" stroke-width="1.4"/>
<line x1="244.30" y1="293.04" x2="247.70" y2="293.04" stroke="#0a0a0a" stroke-width="1.3"/>
<rect x="266.65" y="309.33" width="11.90" height="5.67" fill="#0a0a0a"/>
<line x1="272.60" y1="309.33" x2="272.60" y2="304.38" stroke="#0a0a0a" stroke-width="1.4"/>
<line x1="270.90" y1="304.38" x2="274.30" y2="304.38" stroke="#0a0a0a" stroke-width="1.3"/>
<rect x="293.25" y="310.32" width="11.90" height="4.68" fill="#0a0a0a"/>
<line x1="299.20" y1="310.32" x2="299.20" y2="309.47" stroke="#0a0a0a" stroke-width="1.4"/>
<line x1="297.50" y1="309.47" x2="300.90" y2="309.47" stroke="#0a0a0a" stroke-width="1.3"/>
<rect x="319.85" y="312.52" width="11.90" height="2.48" fill="#0a0a0a"/>
<line x1="325.80" y1="312.52" x2="325.80" y2="308.98" stroke="#0a0a0a" stroke-width="1.4"/>
<line x1="324.10" y1="308.98" x2="327.50" y2="308.98" stroke="#0a0a0a" stroke-width="1.3"/>
<line x1="206.00" y1="229.50" x2="206.00" y2="315.50" stroke="#262626" stroke-width="1.4"/>
<line x1="205.80" y1="315.00" x2="339.80" y2="315.00" stroke="#0a0a0a" stroke-width="1.2"/>
<line x1="204.30" y1="315.00" x2="206.30" y2="315.00" stroke="#0a0a0a" stroke-width="1"/>
<text transform="translate(203.10,318.20) scale(0.86,1)" font-size="8.9" text-anchor="end" fill="#111" stroke="#111" stroke-width="0.3">0</text>
<line x1="204.30" y1="300.83" x2="206.30" y2="300.83" stroke="#0a0a0a" stroke-width="1"/>
<text transform="translate(203.10,304.03) scale(0.86,1)" font-size="8.9" text-anchor="end" fill="#111" stroke="#111" stroke-width="0.3">0.2</text>
<line x1="204.30" y1="286.67" x2="206.30" y2="286.67" stroke="#0a0a0a" stroke-width="1"/>
<text transform="translate(203.10,289.87) scale(0.86,1)" font-size="8.9" text-anchor="end" fill="#111" stroke="#111" stroke-width="0.3">0.4</text>
<line x1="204.30" y1="272.50" x2="206.30" y2="272.50" stroke="#0a0a0a" stroke-width="1"/>
<text transform="translate(203.10,275.70) scale(0.86,1)" font-size="8.9" text-anchor="end" fill="#111" stroke="#111" stroke-width="0.3">0.6</text>
<line x1="204.30" y1="258.33" x2="206.30" y2="258.33" stroke="#0a0a0a" stroke-width="1"/>
<text transform="translate(203.10,261.53) scale(0.86,1)" font-size="8.9" text-anchor="end" fill="#111" stroke="#111" stroke-width="0.3">0.8</text>
<line x1="204.30" y1="244.17" x2="206.30" y2="244.17" stroke="#0a0a0a" stroke-width="1"/>
<text transform="translate(203.10,247.37) scale(0.86,1)" font-size="8.9" text-anchor="end" fill="#111" stroke="#111" stroke-width="0.3">1</text>
<line x1="204.30" y1="230.00" x2="206.30" y2="230.00" stroke="#0a0a0a" stroke-width="1"/>
<text transform="translate(203.10,233.20) scale(0.86,1)" font-size="8.9" text-anchor="end" fill="#111" stroke="#111" stroke-width="0.3">1.2</text>
<line x1="206.30" y1="315.00" x2="206.30" y2="317.00" stroke="#0a0a0a" stroke-width="1"/>
<line x1="232.90" y1="315.00" x2="232.90" y2="317.00" stroke="#0a0a0a" stroke-width="1"/>
<line x1="259.50" y1="315.00" x2="259.50" y2="317.00" stroke="#0a0a0a" stroke-width="1"/>
<line x1="286.10" y1="315.00" x2="286.10" y2="317.00" stroke="#0a0a0a" stroke-width="1"/>
<line x1="312.70" y1="315.00" x2="312.70" y2="317.00" stroke="#0a0a0a" stroke-width="1"/>
<line x1="339.30" y1="315.00" x2="339.30" y2="317.00" stroke="#0a0a0a" stroke-width="1"/>
<text transform="translate(219.00,327.90) scale(0.9,1)" font-size="8.9" text-anchor="middle" fill="#111" stroke="#111" stroke-width="0.3">0</text>
<text transform="translate(245.60,327.90) scale(0.9,1)" font-size="8.9" text-anchor="middle" fill="#111" stroke="#111" stroke-width="0.3">6</text>
<text transform="translate(272.20,327.90) scale(0.9,1)" font-size="8.9" text-anchor="middle" fill="#111" stroke="#111" stroke-width="0.3">10</text>
<text transform="translate(298.80,327.90) scale(0.9,1)" font-size="8.9" text-anchor="middle" fill="#111" stroke="#111" stroke-width="0.3">14</text>
<text transform="translate(325.40,327.90) scale(0.9,1)" font-size="8.9" text-anchor="middle" fill="#111" stroke="#111" stroke-width="0.3">16</text>
<text transform="translate(270.20,340.80) scale(0.858,1)" font-size="10.1" text-anchor="middle" fill="#111" stroke="#111" stroke-width="0.3">Days post-TPO treatment</text>
<text transform="translate(185.60,271.00) rotate(-90) scale(0.923,1)" font-size="9.5" text-anchor="middle" fill="#111" stroke="#111" stroke-width="0.3">Relative <tspan font-style="italic">CDK6</tspan> expression</text>
<text transform="translate(329.30,248.80) scale(0.9,1)" font-size="12.3" text-anchor="end" fill="#111" stroke="#111" stroke-width="0.3" font-style="italic">CDK6</text>
<path d="M386.3,230 H519.3 V315" fill="none" stroke="#868686" stroke-width="1.3"/>
<rect x="393.80" y="254.29" width="11.60" height="60.71" fill="#0a0a0a"/>
<line x1="399.60" y1="254.29" x2="399.60" y2="250.04" stroke="#0a0a0a" stroke-width="1.4"/>
<line x1="397.90" y1="250.04" x2="401.30" y2="250.04" stroke="#0a0a0a" stroke-width="1.3"/>
<rect x="420.40" y="243.36" width="11.60" height="71.64" fill="#0a0a0a"/>
<line x1="426.20" y1="243.36" x2="426.20" y2="235.46" stroke="#0a0a0a" stroke-width="1.4"/>
<line x1="424.50" y1="235.46" x2="427.90" y2="235.46" stroke="#0a0a0a" stroke-width="1.3"/>
<text transform="translate(452.00,310.40) scale(0.93,1)" font-size="8.6" text-anchor="middle" fill="#111" stroke="#111" stroke-width="0.3">ND</text>
<text transform="translate(478.60,310.40) scale(0.93,1)" font-size="8.6" text-anchor="middle" fill="#111" stroke="#111" stroke-width="0.3">ND</text>
<text transform="translate(505.20,310.40) scale(0.93,1)" font-size="8.6" text-anchor="middle" fill="#111" stroke="#111" stroke-width="0.3">ND</text>
<line x1="386.00" y1="229.50" x2="386.00" y2="315.50" stroke="#262626" stroke-width="1.4"/>
<line x1="385.80" y1="315.00" x2="519.80" y2="315.00" stroke="#0a0a0a" stroke-width="1.2"/>
<line x1="384.30" y1="315.00" x2="386.30" y2="315.00" stroke="#0a0a0a" stroke-width="1"/>
<text transform="translate(383.60,318.20) scale(0.86,1)" font-size="8.9" text-anchor="end" fill="#111" stroke="#111" stroke-width="0.3">0</text>
<line x1="384.30" y1="302.86" x2="386.30" y2="302.86" stroke="#0a0a0a" stroke-width="1"/>
<text transform="translate(383.60,306.06) scale(0.86,1)" font-size="8.9" text-anchor="end" fill="#111" stroke="#111" stroke-width="0.3">0.2</text>
<line x1="384.30" y1="290.71" x2="386.30" y2="290.71" stroke="#0a0a0a" stroke-width="1"/>
<text transform="translate(383.60,293.91) scale(0.86,1)" font-size="8.9" text-anchor="end" fill="#111" stroke="#111" stroke-width="0.3">0.4</text>
<line x1="384.30" y1="278.57" x2="386.30" y2="278.57" stroke="#0a0a0a" stroke-width="1"/>
<text transform="translate(383.60,281.77) scale(0.86,1)" font-size="8.9" text-anchor="end" fill="#111" stroke="#111" stroke-width="0.3">0.6</text>
<line x1="384.30" y1="266.43" x2="386.30" y2="266.43" stroke="#0a0a0a" stroke-width="1"/>
<text transform="translate(383.60,269.63) scale(0.86,1)" font-size="8.9" text-anchor="end" fill="#111" stroke="#111" stroke-width="0.3">0.8</text>
<line x1="384.30" y1="254.29" x2="386.30" y2="254.29" stroke="#0a0a0a" stroke-width="1"/>
<text transform="translate(383.60,257.49) scale(0.86,1)" font-size="8.9" text-anchor="end" fill="#111" stroke="#111" stroke-width="0.3">1</text>
<line x1="384.30" y1="242.14" x2="386.30" y2="242.14" stroke="#0a0a0a" stroke-width="1"/>
<text transform="translate(383.60,245.34) scale(0.86,1)" font-size="8.9" text-anchor="end" fill="#111" stroke="#111" stroke-width="0.3">1.2</text>
<line x1="384.30" y1="230.00" x2="386.30" y2="230.00" stroke="#0a0a0a" stroke-width="1"/>
<text transform="translate(383.60,233.20) scale(0.86,1)" font-size="8.9" text-anchor="end" fill="#111" stroke="#111" stroke-width="0.3">1.4</text>
<line x1="386.30" y1="315.00" x2="386.30" y2="317.00" stroke="#0a0a0a" stroke-width="1"/>
<line x1="412.90" y1="315.00" x2="412.90" y2="317.00" stroke="#0a0a0a" stroke-width="1"/>
<line x1="439.50" y1="315.00" x2="439.50" y2="317.00" stroke="#0a0a0a" stroke-width="1"/>
<line x1="466.10" y1="315.00" x2="466.10" y2="317.00" stroke="#0a0a0a" stroke-width="1"/>
<line x1="492.70" y1="315.00" x2="492.70" y2="317.00" stroke="#0a0a0a" stroke-width="1"/>
<line x1="519.30" y1="315.00" x2="519.30" y2="317.00" stroke="#0a0a0a" stroke-width="1"/>
<text transform="translate(398.80,327.90) scale(0.9,1)" font-size="8.9" text-anchor="middle" fill="#111" stroke="#111" stroke-width="0.3">0</text>
<text transform="translate(425.40,327.90) scale(0.9,1)" font-size="8.9" text-anchor="middle" fill="#111" stroke="#111" stroke-width="0.3">6</text>
<text transform="translate(452.00,327.90) scale(0.9,1)" font-size="8.9" text-anchor="middle" fill="#111" stroke="#111" stroke-width="0.3">10</text>
<text transform="translate(478.60,327.90) scale(0.9,1)" font-size="8.9" text-anchor="middle" fill="#111" stroke="#111" stroke-width="0.3">14</text>
<text transform="translate(505.20,327.90) scale(0.9,1)" font-size="8.9" text-anchor="middle" fill="#111" stroke="#111" stroke-width="0.3">16</text>
<text transform="translate(450.20,340.80) scale(0.858,1)" font-size="10.1" text-anchor="middle" fill="#111" stroke="#111" stroke-width="0.3">Days post-TPO treatment</text>
<text transform="translate(364.70,270.00) rotate(-90) scale(0.86,1)" font-size="9.5" text-anchor="middle" fill="#111" stroke="#111" stroke-width="0.3">Relative <tspan font-style="italic">CDK4</tspan> expression</text>
<text transform="translate(511.30,248.80) scale(0.9,1)" font-size="12.3" text-anchor="end" fill="#111" stroke="#111" stroke-width="0.3" font-style="italic">CDK4</text>
<path d="M29.5,377.3 H161.6 V463.2" fill="none" stroke="#868686" stroke-width="1.3"/>
<rect x="35.71" y="458.26" width="12.40" height="4.94" fill="#0a0a0a"/>
<line x1="41.91" y1="458.26" x2="41.91" y2="457.62" stroke="#0a0a0a" stroke-width="1.4"/>
<line x1="40.21" y1="457.62" x2="43.61" y2="457.62" stroke="#0a0a0a" stroke-width="1.3"/>
<rect x="62.13" y="457.19" width="12.40" height="6.01" fill="#0a0a0a"/>
<line x1="68.33" y1="457.19" x2="68.33" y2="456.54" stroke="#0a0a0a" stroke-width="1.4"/>
<line x1="66.63" y1="456.54" x2="70.03" y2="456.54" stroke="#0a0a0a" stroke-width="1.3"/>
<rect x="88.55" y="441.73" width="12.40" height="21.47" fill="#0a0a0a"/>
<line x1="94.75" y1="441.73" x2="94.75" y2="440.44" stroke="#0a0a0a" stroke-width="1.4"/>
<line x1="93.05" y1="440.44" x2="96.45" y2="440.44" stroke="#0a0a0a" stroke-width="1.3"/>
<rect x="114.97" y="383.74" width="12.40" height="79.46" fill="#0a0a0a"/>
<rect x="141.39" y="406.08" width="12.40" height="57.12" fill="#0a0a0a"/>
<line x1="147.59" y1="406.08" x2="147.59" y2="405.22" stroke="#0a0a0a" stroke-width="1.4"/>
<line x1="145.89" y1="405.22" x2="149.29" y2="405.22" stroke="#0a0a0a" stroke-width="1.3"/>
<line x1="29.20" y1="376.80" x2="29.20" y2="463.70" stroke="#262626" stroke-width="1.4"/>
<line x1="29.00" y1="463.20" x2="162.10" y2="463.20" stroke="#0a0a0a" stroke-width="1.2"/>
<line x1="27.50" y1="463.20" x2="29.50" y2="463.20" stroke="#0a0a0a" stroke-width="1"/>
<text transform="translate(24.70,466.40) scale(0.86,1)" font-size="8.9" text-anchor="end" fill="#111" stroke="#111" stroke-width="0.3">0</text>
<line x1="27.50" y1="446.02" x2="29.50" y2="446.02" stroke="#0a0a0a" stroke-width="1"/>
<text transform="translate(24.70,449.22) scale(0.86,1)" font-size="8.9" text-anchor="end" fill="#111" stroke="#111" stroke-width="0.3">4</text>
<line x1="27.50" y1="428.84" x2="29.50" y2="428.84" stroke="#0a0a0a" stroke-width="1"/>
<text transform="translate(24.70,432.04) scale(0.86,1)" font-size="8.9" text-anchor="end" fill="#111" stroke="#111" stroke-width="0.3">8</text>
<line x1="27.50" y1="411.66" x2="29.50" y2="411.66" stroke="#0a0a0a" stroke-width="1"/>
<text transform="translate(24.70,414.86) scale(0.86,1)" font-size="8.9" text-anchor="end" fill="#111" stroke="#111" stroke-width="0.3">12</text>
<line x1="27.50" y1="394.48" x2="29.50" y2="394.48" stroke="#0a0a0a" stroke-width="1"/>
<text transform="translate(24.70,397.68) scale(0.86,1)" font-size="8.9" text-anchor="end" fill="#111" stroke="#111" stroke-width="0.3">16</text>
<line x1="27.50" y1="377.30" x2="29.50" y2="377.30" stroke="#0a0a0a" stroke-width="1"/>
<text transform="translate(24.70,380.50) scale(0.86,1)" font-size="8.9" text-anchor="end" fill="#111" stroke="#111" stroke-width="0.3">20</text>
<line x1="29.50" y1="463.20" x2="29.50" y2="465.20" stroke="#0a0a0a" stroke-width="1"/>
<line x1="55.92" y1="463.20" x2="55.92" y2="465.20" stroke="#0a0a0a" stroke-width="1"/>
<line x1="82.34" y1="463.20" x2="82.34" y2="465.20" stroke="#0a0a0a" stroke-width="1"/>
<line x1="108.76" y1="463.20" x2="108.76" y2="465.20" stroke="#0a0a0a" stroke-width="1"/>
<line x1="135.18" y1="463.20" x2="135.18" y2="465.20" stroke="#0a0a0a" stroke-width="1"/>
<line x1="161.60" y1="463.20" x2="161.60" y2="465.20" stroke="#0a0a0a" stroke-width="1"/>
<text transform="translate(43.01,476.10) scale(0.9,1)" font-size="8.9" text-anchor="middle" fill="#111" stroke="#111" stroke-width="0.3">0</text>
<text transform="translate(69.43,476.10) scale(0.9,1)" font-size="8.9" text-anchor="middle" fill="#111" stroke="#111" stroke-width="0.3">6</text>
<text transform="translate(95.85,476.10) scale(0.9,1)" font-size="8.9" text-anchor="middle" fill="#111" stroke="#111" stroke-width="0.3">10</text>
<text transform="translate(122.27,476.10) scale(0.9,1)" font-size="8.9" text-anchor="middle" fill="#111" stroke="#111" stroke-width="0.3">14</text>
<text transform="translate(148.69,476.10) scale(0.9,1)" font-size="8.9" text-anchor="middle" fill="#111" stroke="#111" stroke-width="0.3">16</text>
<text transform="translate(93.50,489.00) scale(0.858,1)" font-size="10.1" text-anchor="middle" fill="#111" stroke="#111" stroke-width="0.3">Days post-TPO treatment</text>
<text transform="translate(9.40,421.60) rotate(-90) scale(0.918,1)" font-size="9.5" text-anchor="middle" fill="#111" stroke="#111" stroke-width="0.3">Relative miR-34a expression</text>
<text transform="translate(38.70,397.50) scale(0.85,1)" font-size="12" text-anchor="start" fill="#111" stroke="#111" stroke-width="0.3">miR-34a</text>
<path d="M281.0,374.8 H435.4 V488.6" fill="none" stroke="#868686" stroke-width="1.3"/>
<rect x="292.00" y="433.22" width="16.60" height="55.38" fill="#0a0a0a"/>
<line x1="300.30" y1="433.22" x2="300.30" y2="429.99" stroke="#0a0a0a" stroke-width="1.5"/>
<line x1="298.40" y1="429.99" x2="302.20" y2="429.99" stroke="#0a0a0a" stroke-width="1.3"/>
<rect x="330.60" y="418.04" width="16.60" height="70.56" fill="#0a0a0a"/>
<line x1="338.90" y1="418.04" x2="338.90" y2="409.89" stroke="#0a0a0a" stroke-width="1.5"/>
<line x1="337.00" y1="409.89" x2="340.80" y2="409.89" stroke="#0a0a0a" stroke-width="1.3"/>
<rect x="369.20" y="402.30" width="16.60" height="86.30" fill="#0a0a0a"/>
<line x1="377.50" y1="402.30" x2="377.50" y2="390.35" stroke="#0a0a0a" stroke-width="1.5"/>
<line x1="375.60" y1="390.35" x2="379.40" y2="390.35" stroke="#0a0a0a" stroke-width="1.3"/>
<rect x="407.80" y="439.29" width="16.60" height="49.31" fill="#0a0a0a"/>
<line x1="416.10" y1="439.29" x2="416.10" y2="432.84" stroke="#0a0a0a" stroke-width="1.5"/>
<line x1="414.20" y1="432.84" x2="418.00" y2="432.84" stroke="#0a0a0a" stroke-width="1.3"/>
<line x1="281.00" y1="374.30" x2="281.00" y2="489.10" stroke="#0a0a0a" stroke-width="1.1"/>
<line x1="280.50" y1="488.60" x2="435.90" y2="488.60" stroke="#0a0a0a" stroke-width="1.1"/>
<line x1="278.80" y1="488.60" x2="281.00" y2="488.60" stroke="#0a0a0a" stroke-width="1"/>
<text transform="translate(277.70,492.30) scale(0.87,1)" font-size="10.3" text-anchor="end" fill="#111" stroke="#111" stroke-width="0.2">0</text>
<line x1="278.80" y1="469.63" x2="281.00" y2="469.63" stroke="#0a0a0a" stroke-width="1"/>
<text transform="translate(277.70,473.33) scale(0.87,1)" font-size="10.3" text-anchor="end" fill="#111" stroke="#111" stroke-width="0.2">10</text>
<line x1="278.80" y1="450.67" x2="281.00" y2="450.67" stroke="#0a0a0a" stroke-width="1"/>
<text transform="translate(277.70,454.37) scale(0.87,1)" font-size="10.3" text-anchor="end" fill="#111" stroke="#111" stroke-width="0.2">20</text>
<line x1="278.80" y1="431.70" x2="281.00" y2="431.70" stroke="#0a0a0a" stroke-width="1"/>
<text transform="translate(277.70,435.40) scale(0.87,1)" font-size="10.3" text-anchor="end" fill="#111" stroke="#111" stroke-width="0.2">30</text>
<line x1="278.80" y1="412.73" x2="281.00" y2="412.73" stroke="#0a0a0a" stroke-width="1"/>
<text transform="translate(277.70,416.43) scale(0.87,1)" font-size="10.3" text-anchor="end" fill="#111" stroke="#111" stroke-width="0.2">40</text>
<line x1="278.80" y1="393.77" x2="281.00" y2="393.77" stroke="#0a0a0a" stroke-width="1"/>
<text transform="translate(277.70,397.47) scale(0.87,1)" font-size="10.3" text-anchor="end" fill="#111" stroke="#111" stroke-width="0.2">50</text>
<line x1="278.80" y1="374.80" x2="281.00" y2="374.80" stroke="#0a0a0a" stroke-width="1"/>
<text transform="translate(277.70,378.50) scale(0.87,1)" font-size="10.3" text-anchor="end" fill="#111" stroke="#111" stroke-width="0.2">60</text>
<line x1="281.00" y1="488.60" x2="281.00" y2="490.90" stroke="#0a0a0a" stroke-width="1"/>
<line x1="319.60" y1="488.60" x2="319.60" y2="490.90" stroke="#0a0a0a" stroke-width="1"/>
<line x1="358.20" y1="488.60" x2="358.20" y2="490.90" stroke="#0a0a0a" stroke-width="1"/>
<line x1="396.80" y1="488.60" x2="396.80" y2="490.90" stroke="#0a0a0a" stroke-width="1"/>
<line x1="435.40" y1="488.60" x2="435.40" y2="490.90" stroke="#0a0a0a" stroke-width="1"/>
<text transform="translate(300.00,499.90) scale(0.86,1)" font-size="10" text-anchor="middle" fill="#111" stroke="#111" stroke-width="0.3">control</text>
<text transform="translate(338.60,499.90) scale(0.86,1)" font-size="10" text-anchor="middle" fill="#111" stroke="#111" stroke-width="0.3">miR-34a</text>
<text transform="translate(377.20,499.90) scale(0.86,1)" font-size="10" text-anchor="middle" fill="#111" stroke="#111" stroke-width="0.3">miR-150</text>
<text transform="translate(415.80,499.90) scale(0.86,1)" font-size="10" text-anchor="middle" fill="#111" stroke="#111" stroke-width="0.3">miR-30c</text>
<text transform="translate(338.90,405.60) scale(0.92,1)" font-size="11.3" text-anchor="middle" fill="#111" stroke="#111" stroke-width="0.25">#</text>
<text transform="translate(378.10,386.00) scale(0.92,1)" font-size="11.3" text-anchor="middle" fill="#111" stroke="#111" stroke-width="0.25">#</text>
<text transform="translate(259.9,432.3) rotate(-90) scale(0.935,1)" font-size="9.3" text-anchor="middle" fill="#111" stroke="#111" stroke-width="0.25">Number of MK colonies</text>
</svg>
</body>
</html>
